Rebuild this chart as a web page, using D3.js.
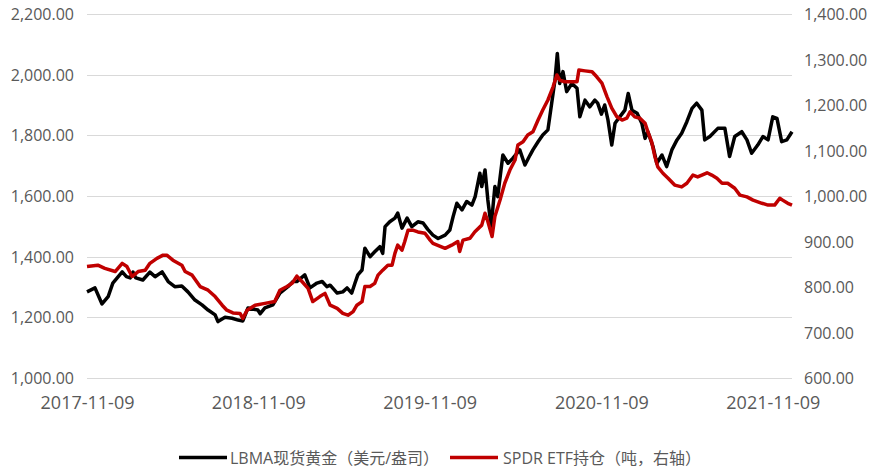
<!DOCTYPE html>
<html>
<head>
<meta charset="utf-8">
<script src="https://cdn.jsdelivr.net/npm/d3@7"></script>
<style>
  body { margin: 0; background: #fff; }
  svg text { font-family: "Open Sans", "Noto Sans CJK SC", sans-serif; fill: #595959; }
</style>
</head>
<body>
<div id="chart"></div>
<script>
/* chart data */
var xTicks = ["2017-11-09", "2018-11-09", "2019-11-09", "2020-11-09", "2021-11-09"];
var leftTicks = [1000, 1200, 1400, 1600, 1800, 2000, 2200];
var rightTicks = [600, 700, 800, 900, 1000, 1100, 1200, 1300, 1400];

// LBMA spot gold, USD/oz
var goldDates = [
  "2017-11-09","2017-11-26","2017-12-11","2017-12-24","2018-01-03","2018-01-23","2018-02-01","2018-02-09",
  "2018-02-15","2018-02-21","2018-03-08","2018-03-23","2018-04-03","2018-04-18","2018-05-01","2018-05-15",
  "2018-05-30","2018-06-12","2018-06-27","2018-07-12","2018-07-25","2018-08-09","2018-08-15","2018-08-30",
  "2018-09-14","2018-09-27","2018-10-07","2018-10-18","2018-11-08","2018-11-13","2018-11-23","2018-12-10",
  "2018-12-25","2019-01-11","2019-01-22","2019-01-30","2019-02-16","2019-02-27","2019-03-14","2019-03-25",
  "2019-04-04","2019-04-11","2019-04-26","2019-05-08","2019-05-17","2019-05-27","2019-06-03","2019-06-09",
  "2019-06-18","2019-06-24","2019-07-05","2019-07-15","2019-07-26","2019-08-01","2019-08-06","2019-08-16",
  "2019-08-27","2019-09-02","2019-09-11","2019-09-22","2019-10-02","2019-10-15","2019-10-26","2019-11-05",
  "2019-11-16","2019-11-27","2019-12-12","2019-12-22","2019-12-29","2020-01-06","2020-01-17","2020-01-27",
  "2020-02-07","2020-02-14","2020-02-24","2020-02-28","2020-03-06","2020-03-12","2020-03-19","2020-03-27",
  "2020-04-02","2020-04-13","2020-04-24","2020-05-04","2020-05-19","2020-05-30","2020-06-10","2020-06-16",
  "2020-06-27","2020-07-07","2020-07-18","2020-07-26","2020-08-02","2020-08-07","2020-08-12","2020-08-19",
  "2020-08-27","2020-09-07","2020-09-18","2020-09-24","2020-10-05","2020-10-15","2020-10-26","2020-11-01",
  "2020-11-09","2020-11-16","2020-11-23","2020-12-01","2020-12-08","2020-12-18","2020-12-29","2021-01-05",
  "2021-01-13","2021-01-24","2021-02-03","2021-02-10","2021-02-16","2021-02-27","2021-03-07","2021-03-18",
  "2021-03-28","2021-04-08","2021-04-19","2021-04-29","2021-05-10","2021-05-21","2021-05-31","2021-06-11",
  "2021-06-17","2021-06-28","2021-07-15","2021-07-30","2021-08-09","2021-08-20","2021-09-04","2021-09-15",
  "2021-09-25","2021-10-08","2021-10-19","2021-10-30","2021-11-09","2021-11-18","2021-11-28","2021-12-09",
  "2021-12-20"
];
var goldValues = [
  1284,1297,1244,1268,1313,1350,1334,1330,
  1349,1330,1323,1349,1334,1350,1318,1301,
  1303,1284,1257,1241,1224,1208,1186,1200,
  1197,1191,1188,1231,1224,1212,1231,1241,
  1280,1301,1318,1318,1340,1297,1313,1318,
  1301,1306,1280,1284,1297,1280,1313,1340,
  1356,1428,1400,1416,1433,1411,1499,1515,
  1527,1544,1494,1527,1499,1515,1511,1490,
  1471,1460,1471,1488,1532,1576,1554,1582,
  1570,1598,1675,1631,1686,1587,1500,1631,
  1598,1735,1708,1724,1752,1702,1735,1752,
  1779,1801,1818,1906,1982,2070,1971,2010,
  1944,1971,1955,1861,1916,1894,1916,1906,
  1870,1900,1850,1768,1840,1861,1883,1938,
  1883,1873,1840,1790,1812,1762,1708,1735,
  1697,1752,1785,1807,1845,1889,1906,1883,
  1785,1796,1823,1823,1730,1796,1812,1785,
  1741,1768,1796,1785,1861,1856,1779,1785,
  1812
];

// SPDR Gold Trust holdings, tonnes (right axis)
var spdrDates = [
  "2017-11-09","2017-12-02","2017-12-17","2018-01-08","2018-01-23","2018-02-02","2018-02-13","2018-02-26",
  "2018-03-13","2018-03-23","2018-04-07","2018-04-20","2018-04-28","2018-05-11","2018-05-30","2018-06-06",
  "2018-06-21","2018-07-08","2018-07-25","2018-08-09","2018-08-24","2018-09-03","2018-09-16","2018-10-01",
  "2018-10-07","2018-10-16","2018-11-02","2018-11-23","2018-12-14","2018-12-25","2019-01-09","2019-01-20",
  "2019-01-30","2019-02-10","2019-02-23","2019-03-05","2019-03-20","2019-03-31","2019-04-11","2019-04-26",
  "2019-05-08","2019-05-19","2019-05-30","2019-06-07","2019-06-18","2019-06-24","2019-07-05","2019-07-15",
  "2019-07-22","2019-08-01","2019-08-12","2019-08-21","2019-08-27","2019-09-02","2019-09-11","2019-09-17",
  "2019-09-24","2019-10-04","2019-10-15","2019-10-30","2019-11-10","2019-11-16","2019-12-12","2019-12-26",
  "2020-01-08","2020-01-12","2020-01-19","2020-02-03","2020-02-13","2020-02-28","2020-03-06","2020-03-12",
  "2020-03-21","2020-03-27","2020-04-07","2020-04-17","2020-04-28","2020-05-09","2020-05-15","2020-05-26",
  "2020-06-05","2020-06-16","2020-06-27","2020-07-07","2020-07-18","2020-07-29","2020-08-06","2020-08-12",
  "2020-08-23","2020-09-07","2020-09-18","2020-09-22","2020-10-05","2020-10-20","2020-10-30","2020-11-10",
  "2020-11-21","2020-12-01","2020-12-12","2020-12-23","2021-01-02","2021-01-09","2021-01-19","2021-01-30",
  "2021-02-10","2021-02-16","2021-02-24","2021-03-03","2021-03-09","2021-03-20","2021-03-31","2021-04-14",
  "2021-04-29","2021-05-10","2021-05-23","2021-06-02","2021-06-11","2021-06-22","2021-07-02","2021-07-13",
  "2021-07-24","2021-08-05","2021-08-20","2021-08-31","2021-09-15","2021-09-28","2021-10-17","2021-10-30",
  "2021-11-13","2021-11-24","2021-11-30","2021-12-11","2021-12-20"
];
var spdrValues = [
  845,848,841,834,852,845,823,834,
  837,852,863,870,870,859,848,834,
  826,801,793,779,760,749,743,742,
  731,749,760,764,768,793,801,808,
  824,812,797,768,779,786,760,753,
  742,738,746,760,768,801,801,808,
  826,837,848,848,874,892,881,900,
  925,925,921,918,903,896,885,892,
  900,878,903,907,921,936,962,944,
  911,955,991,1028,1057,1079,1112,1119,
  1134,1141,1167,1189,1211,1240,1266,1255,
  1251,1251,1251,1277,1275,1273,1262,1248,
  1218,1193,1174,1167,1171,1185,1174,1171,
  1160,1141,1119,1086,1064,1050,1039,1024,
  1020,1028,1046,1042,1046,1051,1046,1039,
  1028,1028,1017,1002,998,991,984,980,
  980,995,991,984,980
];

var legendLabels = ["LBMA现货黄金（美元/盎司）", "SPDR ETF持仓（吨，右轴）"];

/* layout */
var width = 882, height = 470;
var plotLeft = 87, plotRight = 792, plotTop = 14, plotBottom = 378;
var parseDate = d3.timeParse("%Y-%m-%d");

var svg = d3.select("#chart").append("svg")
  .attr("width", width)
  .attr("height", height);

var x = d3.scaleTime()
  .domain([parseDate("2017-11-09"), parseDate("2021-12-20")])
  .range([plotLeft, plotRight]);
var yLeft = d3.scaleLinear().domain([1000, 2200]).range([plotBottom, plotTop]);
var yRight = d3.scaleLinear().domain([600, 1400]).range([plotBottom, plotTop]);

var fmt = d3.format(",.2f");

// gridlines
svg.append("g")
  .selectAll("line")
  .data(leftTicks)
  .enter()
  .append("line")
  .attr("x1", plotLeft)
  .attr("x2", plotRight)
  .attr("y1", function(d){ return Math.round(yLeft(d)) + 0.5; })
  .attr("y2", function(d){ return Math.round(yLeft(d)) + 0.5; })
  .attr("stroke", "#d9d9d9")
  .attr("stroke-width", 1);

// left axis
var leftAxis = svg.append("g")
  .attr("transform", "translate(" + (plotLeft - 13) + ",0)")
  .call(d3.axisLeft(yLeft).tickValues(leftTicks).tickFormat(fmt).tickSize(0).tickPadding(0));
leftAxis.select(".domain").remove();
leftAxis.selectAll("text").style("font-size", "16px").attr("dy", "0.35em");

// right axis
var rightAxis = svg.append("g")
  .attr("transform", "translate(" + (plotRight + 12) + ",0)")
  .call(d3.axisRight(yRight).tickValues(rightTicks).tickFormat(fmt).tickSize(0).tickPadding(0));
rightAxis.select(".domain").remove();
rightAxis.selectAll("text").style("font-size", "16px").attr("dy", "0.35em");

// bottom axis
var bottomAxis = svg.append("g")
  .attr("transform", "translate(0," + plotBottom + ")")
  .call(d3.axisBottom(x).tickValues(xTicks.map(parseDate)).tickFormat(d3.timeFormat("%Y-%m-%d")).tickSize(0).tickPadding(18));
bottomAxis.select(".domain").remove();
bottomAxis.selectAll("text").style("font-size", "18px");

// series
var gold = goldDates.map(function(d, i){ return {date: parseDate(d), value: goldValues[i]}; });
var spdr = spdrDates.map(function(d, i){ return {date: parseDate(d), value: spdrValues[i]}; });

svg.append("path")
  .datum(gold)
  .attr("fill", "none")
  .attr("stroke", "#000000")
  .attr("stroke-width", 3.5)
  .attr("stroke-linejoin", "round")
  .attr("d", d3.line().x(function(d){ return x(d.date); }).y(function(d){ return yLeft(d.value); }));

svg.append("path")
  .datum(spdr)
  .attr("fill", "none")
  .attr("stroke", "#c00000")
  .attr("stroke-width", 3.5)
  .attr("stroke-linejoin", "round")
  .attr("d", d3.line().x(function(d){ return x(d.date); }).y(function(d){ return yRight(d.value); }));

// legend
var legendItems = [
  {label: legendLabels[0], color: "#000000", x1: 179, x2: 227, tx: 230},
  {label: legendLabels[1], color: "#c00000", x1: 450, x2: 498, tx: 503}
];
var legend = svg.append("g").selectAll("g")
  .data(legendItems)
  .enter()
  .append("g");
legend.append("line")
  .attr("x1", function(d){ return d.x1; })
  .attr("x2", function(d){ return d.x2; })
  .attr("y1", 457.5)
  .attr("y2", 457.5)
  .attr("stroke", function(d){ return d.color; })
  .attr("stroke-width", 3.5);
legend.append("text")
  .attr("x", function(d){ return d.tx; })
  .attr("y", 458)
  .attr("dy", "0.35em")
  .style("font-size", "16px")
  .text(function(d){ return d.label; });
</script>
</body>
</html>
